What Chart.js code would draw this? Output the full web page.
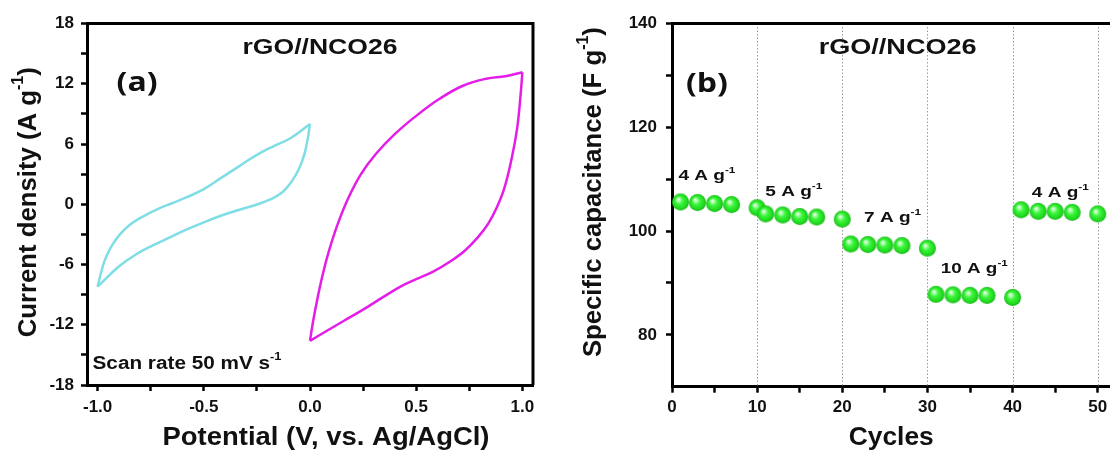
<!DOCTYPE html>
<html lang="en">
<head>
<meta charset="UTF-8">
<title>rGO//NCO26 - CV and rate capability</title>
<script src="https://cdn.jsdelivr.net/npm/chart.js@4.4.1/dist/chart.umd.min.js"></script>
<style>
    body {
        margin: 0;
        background: #fff;
        overflow: hidden;
        width: 1110px;
        height: 452px;
        position: relative;
    }
    canvas { position: absolute; top: 0; }
    #cvChart { left: 0; }
    #rateChart { left: 560px; }
</style>
</head>
<body>
<canvas id="cvChart" width="560" height="452"></canvas>
<canvas id="rateChart" width="560" height="452"></canvas>
<script>
// (a) CV at 50 mV/s, rGO side (-1..0 V) and NCO26 side (0..1 V)
const negForwardV = [-1.0, -0.985, -0.965, -0.935, -0.895, -0.845, -0.785, -0.72, -0.65, -0.58, -0.5, -0.42, -0.34, -0.26, -0.18, -0.09, 0.0];
const negForwardJ = [-8.2, -6.9, -5.5, -4.2, -3.0, -2.0, -1.2, -0.5, 0.1, 0.7, 1.5, 2.6, 3.7, 4.8, 5.7, 6.6, 8.0];
const negReverseV = [0.0, -0.01, -0.025, -0.05, -0.085, -0.13, -0.19, -0.26, -0.34, -0.42, -0.5, -0.58, -0.66, -0.74, -0.82, -0.9, -1.0];
const negReverseJ = [8.0, 6.6, 5.1, 3.6, 2.3, 1.2, 0.45, -0.1, -0.6, -1.15, -1.8, -2.5, -3.3, -4.1, -5.0, -6.2, -8.2];
const posForwardV = [0.0, 0.015, 0.035, 0.06, 0.09, 0.13, 0.18, 0.24, 0.31, 0.4, 0.5, 0.61, 0.72, 0.83, 0.92, 1.0];
const posForwardJ = [-13.6, -11.6, -9.4, -7.0, -4.6, -2.0, 0.6, 3.0, 5.0, 7.0, 8.8, 10.5, 11.8, 12.5, 12.75, 13.14];
const posReverseV = [1.0, 0.99, 0.975, 0.95, 0.915, 0.88, 0.84, 0.79, 0.73, 0.66, 0.58, 0.5, 0.43, 0.34, 0.25, 0.16, 0.08, 0.0];
const posReverseJ = [13.14, 10.5, 7.5, 4.6, 1.6, -0.3, -1.9, -3.3, -4.6, -5.7, -6.7, -7.45, -8.15, -9.3, -10.5, -11.6, -12.6, -13.6];

const cvTicksV = [-1, -0.75, -0.5, -0.25, 0, 0.25, 0.5, 0.75, 1];
const cvTicksJ = [-18, -15, -12, -9, -6, -3, 0, 3, 6, 9, 12, 15, 18];

// (b) specific capacitance vs cycle number
const cycles = [1, 3, 5, 7, 10, 11, 13, 15, 17, 20, 21, 23, 25, 27, 30, 31, 33, 35, 37, 40, 41, 43, 45, 47, 50];
const capacitance = [105.6, 105.5, 105.3, 105.1, 104.5, 103.3, 103.1, 102.8, 102.7, 102.3,
                     97.5, 97.4, 97.3, 97.2, 96.7, 87.8, 87.7, 87.6, 87.6, 87.2,
                     104.1, 103.8, 103.8, 103.6, 103.3];
const currentDensities = ['4', '5', '7', '10', '4'];

const rateTicksX = [0, 5, 10, 15, 20, 25, 30, 35, 40, 45, 50];
const rateTicksY = [80, 90, 100, 110, 120, 130, 140];
const rateGridX = [10, 20, 30, 40, 50];

const FONT = '"Liberation Sans", Arial, sans-serif';

// text with optional superscript parts, optionally stretched to a width
function richText(ctx, parts, x, y, size, opts = {}) {
    const family = opts.family || FONT;
    const supSize = size * 0.62;
    ctx.save();
    const widths = parts.map(([t, sup]) => {
        ctx.font = `bold ${sup ? supSize : size}px ${family}`;
        return ctx.measureText(t).width;
    });
    const natural = widths.reduce((a, b) => a + b, 0);
    const sx = opts.width ? opts.width / natural : 1;
    ctx.translate(x, y);
    if (opts.rotate) ctx.rotate(opts.rotate);
    ctx.scale(sx, 1);
    ctx.fillStyle = '#111';
    ctx.textBaseline = 'middle';
    ctx.textAlign = 'left';
    let cx = opts.align === 'left' ? 0 : -natural / 2;
    parts.forEach(([t, sup], i) => {
        ctx.font = `bold ${sup ? supSize : size}px ${family}`;
        ctx.fillText(t, cx, sup ? -size * 0.4 : 0);
        cx += widths[i];
    });
    ctx.restore();
}

function axis(min, max, ticks, label, boxSize, isX, pad) {
    return {
        type: 'linear',
        min: min,
        max: max,
        afterBuildTicks: s => { s.ticks = ticks.map(v => ({ value: v })); },
        afterFit: s => { if (isX) s.height = boxSize; else s.width = boxSize; },
        ticks: {
            autoSkip: false,
            maxRotation: 0,
            padding: pad,
            color: '#111',
            font: { family: FONT, size: 17, weight: 'bold' },
            callback: label
        },
        grid: { drawOnChartArea: false, tickLength: 6, tickWidth: 2.5, tickColor: '#000' },
        border: { color: '#000', width: 3 }
    };
}

function branch(xs, ys, color) {
    return {
        data: xs.map((v, i) => ({ x: v, y: ys[i] })),
        showLine: true,
        borderColor: color,
        borderWidth: 2.5,
        pointRadius: 0,
        tension: 0.4
    };
}

// green shaded ball used as marker
function makeBall(r) {
    const c = document.createElement('canvas');
    c.width = c.height = r * 2 + 2;
    const g = c.getContext('2d');
    const m = r + 1;
    const grad = g.createRadialGradient(m - r * 0.3, m - r * 0.35, 0, m, m, r);
    grad.addColorStop(0, '#ffffff');
    grad.addColorStop(0.18, '#b6ffb6');
    grad.addColorStop(0.45, '#3cf53c');
    grad.addColorStop(0.85, '#1ed81e');
    grad.addColorStop(1, '#14b014');
    g.fillStyle = grad;
    g.beginPath();
    g.arc(m, m, r, 0, Math.PI * 2);
    g.fill();
    return c;
}

const cvDecor = {
    id: 'cvDecor',
    afterDraw(chart) {
        const { ctx, chartArea: a, scales: { x, y } } = chart;
        ctx.save();
        ctx.strokeStyle = '#000';
        ctx.lineWidth = 3;
        ctx.beginPath();
        ctx.moveTo(a.left, a.top);
        ctx.lineTo(a.right, a.top);
        ctx.lineTo(a.right, a.bottom);
        ctx.stroke();
        ctx.restore();

        richText(ctx, [['rGO//NCO26']], x.getPixelForValue(0.047), y.getPixelForValue(15.6), 22, { width: 155 });
        richText(ctx, [['(a)']], x.getPixelForValue(-0.814), y.getPixelForValue(12), 27, { width: 41, family: '"Open Sans", sans-serif' });
        richText(ctx, [['Scan rate 50 mV s'], ['-1', true]], x.getPixelForValue(-1.024), y.getPixelForValue(-15.9), 18, { width: 189, align: 'left' });

        richText(ctx, [['Potential (V, vs. Ag/AgCl)']], (a.left + a.right) / 2 + 16, a.bottom + 52.5, 26, { width: 327 });
        richText(ctx, [['Current density (A g'], ['-1', true], [')']], a.left - 58, (a.top + a.bottom) / 2 - 2, 26,
            { width: 270, rotate: -Math.PI / 2 });
    }
};

const rateDecor = {
    id: 'rateDecor',
    beforeDatasetsDraw(chart) {
        const { ctx, chartArea: a, scales: { x } } = chart;
        ctx.save();
        ctx.strokeStyle = '#9a9a9a';
        ctx.lineWidth = 1;
        ctx.setLineDash([1.5, 2]);
        rateGridX.forEach(v => {
            const px = Math.round(x.getPixelForValue(v)) + 0.5;
            ctx.beginPath();
            ctx.moveTo(px, a.top);
            ctx.lineTo(px, a.bottom);
            ctx.stroke();
        });
        ctx.restore();
    },
    afterDraw(chart) {
        const { ctx, chartArea: a, scales: { x, y } } = chart;
        ctx.save();
        ctx.strokeStyle = '#000';
        ctx.lineWidth = 3;
        ctx.beginPath();
        ctx.moveTo(a.left, a.top);
        ctx.lineTo(a.right + 10, a.top);
        ctx.stroke();
        ctx.restore();

        richText(ctx, [['rGO//NCO26']], x.getPixelForValue(26.5), y.getPixelForValue(135.3), 22, { width: 158 });
        richText(ctx, [['(b)']], x.getPixelForValue(4.1), y.getPixelForValue(128.3), 27, { width: 42, family: '"Open Sans", sans-serif' });

        const labelX = [4.1, 14.3, 25.9, 35.5, 45.6];
        const labelY = [110.6, 107.5, 102.5, 92.7, 107.3];
        currentDensities.forEach((d, i) => {
            richText(ctx, [[d + ' A g'], ['-1', true]], x.getPixelForValue(labelX[i]), y.getPixelForValue(labelY[i]), 14,
                { width: d.length > 1 ? 67 : 57 });
        });

        richText(ctx, [['Cycles']], (a.left + a.right) / 2, a.bottom + 51, 26, { width: 85 });
        richText(ctx, [['Specific capacitance (F g'], ['-1', true], [')']], a.left - 78, (a.top + a.bottom) / 2 - 13, 26,
            { width: 330, rotate: -Math.PI / 2 });
    }
};

new Chart(document.getElementById('cvChart'), {
    type: 'scatter',
    data: {
        datasets: [
            branch(negForwardV, negForwardJ, '#7fdde6'),
            branch(negReverseV, negReverseJ, '#7fdde6'),
            branch(posForwardV, posForwardJ, '#e41ee8'),
            branch(posReverseV, posReverseJ, '#e41ee8')
        ]
    },
    options: {
        responsive: false,
        animation: false,
        devicePixelRatio: 1,
        layout: { padding: { left: 0, top: 23.5, right: 27, bottom: 0 } },
        plugins: { legend: { display: false }, tooltip: { enabled: false } },
        scales: {
            x: axis(-1.05, 1.05, cvTicksV, v => Math.abs(v * 2 - Math.round(v * 2)) < 1e-6 ? v.toFixed(1) : '', 67, true, 6),
            y: axis(-18, 18, cvTicksJ, v => v % 6 === 0 ? String(v) : '', 87, false, 7)
        }
    },
    plugins: [cvDecor]
});

new Chart(document.getElementById('rateChart'), {
    type: 'scatter',
    data: {
        datasets: [{
            data: cycles.map((c, i) => ({ x: c, y: capacitance[i] })),
            pointStyle: makeBall(8.5),
            pointRadius: 8.5,
            showLine: false
        }]
    },
    options: {
        responsive: false,
        animation: false,
        devicePixelRatio: 1,
        layout: { padding: { left: 0, top: 23.5, right: 9, bottom: 0 } },
        plugins: { legend: { display: false }, tooltip: { enabled: false } },
        scales: {
            x: axis(0, 51.5, rateTicksX, v => v % 10 === 0 ? String(v) : '', 65.3, true, 4),
            y: axis(70, 140, rateTicksY, v => v % 20 === 0 ? String(v) : '', 112, false, 9)
        }
    },
    plugins: [rateDecor]
});
</script>
</body>
</html>
